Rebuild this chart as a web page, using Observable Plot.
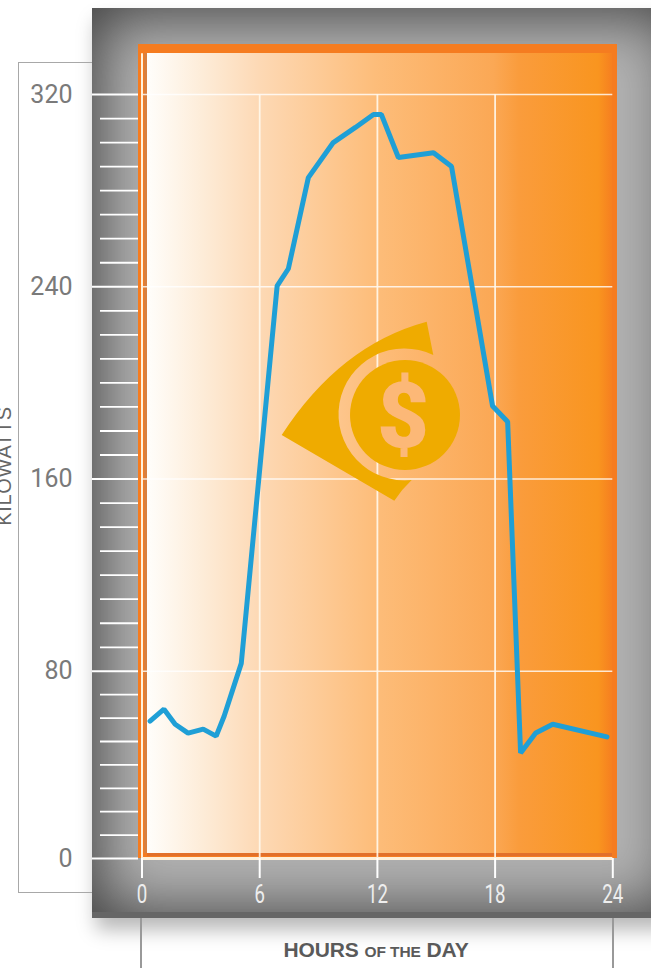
<!DOCTYPE html>
<html><head><meta charset="utf-8">
<script src="https://cdn.jsdelivr.net/npm/d3@7"></script>
<script src="https://cdn.jsdelivr.net/npm/@observablehq/plot@0.6"></script>
<style>
html,body{margin:0;padding:0;background:#fff;width:651px;height:968px;overflow:hidden}
#stage{position:relative;width:651px;height:968px;overflow:hidden}
#stage>div,#stage>svg,#chart{position:absolute}
#panel{left:92px;top:8px;width:590px;height:910px;background:#b2b2b2;box-shadow:inset 0 0 62px 6px #3c3c3c,4px 12px 18px rgba(0,0,0,.28)}
#band{left:92px;top:912px;width:559px;height:6px;background:#666}
#orange{left:138px;top:44px;width:479px;height:814px;background:#f57c20}
#ledge{left:144px;top:53px;width:3px;height:800px;background:#d9803f}
#inner{left:147px;top:53px;width:465px;height:800px;background:linear-gradient(90deg,#fffefb 0%,#fdecd8 12%,#fdd9b5 24%,#fdbd7a 49%,#fba855 74.5%,#fa9c3c 80%,#f9951f 97%,#f67f20 100%)}
#bedge{left:147px;top:853px;width:465px;height:3px;background:#e2702a}
#frame{left:18px;top:62px;width:74px;height:831px;border:solid #a8a8a8;border-width:1.5px 0 1.5px 1.5px;box-sizing:border-box}
#fl{left:140px;top:918px;width:1.5px;height:50px;background:#999}
#fr{left:612px;top:918px;width:1.5px;height:50px;background:#999}
#xl{left:176px;top:938px;width:400px;text-align:center;font:700 21px "Liberation Sans",sans-serif;color:#5a5a5a;line-height:24px;white-space:nowrap;letter-spacing:-.1px}
#xl small{font-size:15.5px}
#yl{left:-56px;top:454px;width:120px;text-align:center;transform:rotate(-90deg);font:400 20px "Liberation Sans",sans-serif;color:#666;line-height:24px;letter-spacing:.7px}
#chart svg{background:transparent;display:block}
</style></head>
<body>
<div id="stage">
<div id="panel"></div>
<div id="band"></div>
<div id="orange"></div>
<div id="ledge"></div>
<div id="inner"></div>
<div id="bedge"></div>
<div id="frame"></div>
<div id="fl"></div><div id="fr"></div>
<div id="chart" style="left:0;top:0"></div>
<svg width="651" height="968" style="left:0;top:0">
  <path fill="#efab00" d="M281.7,435 Q340,345 426.7,321.7 L433.3,355 A66,66 0 1 0 411.7,480 Q402,489 394.3,500.7 Z"/>
  <circle cx="405" cy="415" r="55" fill="#efab00"/>
  <text x="403" y="447" text-anchor="middle" font-family="Roboto" font-weight="900" font-size="90" fill="#fcb877">$</text>
</svg>
<div id="xl">HOURS <small>OF THE</small> DAY</div>
<div id="yl">KILOWATTS</div>
</div>
<script>
const hours = [0.41,1.12,1.69,2.35,3.12,3.78,4.19,5.06,6.89,7.46,8.48,9.75,10.88,11.8,12.2,13.07,14.86,15.78,17.87,18.64,19.3,20.07,20.94,23.7];
const kilowatts = [58.7,63.8,57.4,53.6,55.3,52.3,60.9,83.3,240.4,247.5,285.4,300,306.3,311.7,311.7,293.8,295.8,290,190.4,183.8,45.1,53.6,57.4,52];
const yMajor = [0,80,160,240,320];
const yMinor = [10,20,30,40,50,60,70,90,100,110,120,130,140,150,170,180,190,200,210,220,230,250,260,270,280,290,300,310];
const xTicks = [0,6,12,18,24];
const data = hours.map((h,i)=>({h,kw:kilowatts[i]}));
const plot = Plot.plot({
  width:651,height:968,marginLeft:138,marginRight:39,marginTop:0,marginBottom:110,
  style:{background:"transparent",overflow:"visible"},
  x:{domain:[0,24],range:[141.5,612.3]},
  y:{domain:[0,320],range:[858,94],transform:v=>v<=80?v*0.98:78.4+(v-80)*241.6/240},
  marks:[
    Plot.ruleY(yMajor.slice(1),{x1:0,x2:24,stroke:"#fff",strokeWidth:1.6,strokeOpacity:.8}),
    Plot.ruleX([6,12,18],{y1:0,y2:320,stroke:"#fff8ec",strokeWidth:1.8,strokeOpacity:.9}),
    Plot.ruleX([0],{y1:0,y2:337,stroke:"#fff1dc",strokeWidth:2}),
    Plot.ruleY([0],{x1:0,x2:24,stroke:"#fff0d8",strokeWidth:3}),
    Plot.axisY(yMajor,{anchor:"left",tickSize:46,tickPadding:20,stroke:"#fff",strokeWidth:2,fill:"#7a7a7a",fontSize:25,fontFamily:"Roboto",fontWeight:400,label:null}),
    Plot.axisY(yMinor,{anchor:"left",tickSize:38,stroke:"#fff",strokeWidth:1.8,text:null,label:null}),
    Plot.axisX(xTicks,{anchor:"bottom",tickSize:20,tickPadding:7,stroke:"#fff",strokeWidth:2,fill:"#eee",fontSize:25,fontFamily:"Roboto",label:null}),
    Plot.line(data,{x:"h",y:"kw",stroke:"#1f9fd6",strokeWidth:5,strokeLinejoin:"miter",curve:"linear"})
  ]
});
document.getElementById("chart").appendChild(plot);
// narrow the hour labels, which are condensed in the original
d3.select(plot).selectAll("g[aria-label='x-axis tick label'] text").each(function(){
  const t=this.textContent;
  this.setAttribute("textLength",t.length*10.5);
  this.setAttribute("lengthAdjust","spacingAndGlyphs");
});
</script>
</body></html>
